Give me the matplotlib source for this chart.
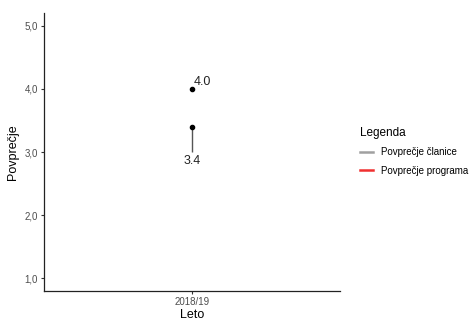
import matplotlib
matplotlib.use("Agg")
from matplotlib import pyplot as plt
from matplotlib.lines import Line2D

plt.rcParams["font.family"] = ["Liberation Sans", "DejaVu Sans"]

leta = ["2018/19"]
povp_clanice = [4.0]
povp_programa = [3.4]
spodnja_meja = [3.0]
y_ticks = [1.0, 2.0, 3.0, 4.0, 5.0]

fig = plt.figure(figsize=(4.74, 3.2), dpi=100)
ax = fig.add_axes([0.093, 0.091, 0.624, 0.868])

x = list(range(len(leta)))
ax.vlines(x, spodnja_meja, povp_programa, color="#555555", linewidth=1.0)
ax.scatter(x, povp_clanice, s=9, color="black", zorder=3)
ax.scatter(x, povp_programa, s=9, color="black", zorder=3)
for i in x:
    ax.text(i + 0.005, povp_clanice[i] + 0.02, "%.1f" % povp_clanice[i],
            fontsize=9, color="#222222", ha="left", va="bottom")
    ax.text(i, spodnja_meja[i] - 0.04, "%.1f" % povp_programa[i],
            fontsize=9, color="#222222", ha="center", va="top")

ax.set_xlim(-0.6, 0.6)
ax.set_ylim(0.8, 5.2)
ax.set_xticks(x)
ax.set_xticklabels(leta)
ax.set_yticks(y_ticks)
ax.set_yticklabels([("%.1f" % v).replace(".", ",") for v in y_ticks])
ax.tick_params(labelsize=7, labelcolor="#4D4D4D", color="#333333", length=2.5, width=0.8, pad=2)
for s in ["top", "right"]:
    ax.spines[s].set_visible(False)
for s in ["left", "bottom"]:
    ax.spines[s].set_color("#222222")
    ax.spines[s].set_linewidth(0.9)
ax.set_xlabel("Leto", fontsize=9, labelpad=1)
ax.set_ylabel("Povprečje", fontsize=9, labelpad=4)

handles = [Line2D([], [], color="#A0A0A0", linewidth=1.8),
           Line2D([], [], color="#F03030", linewidth=1.8)]
leg = fig.legend(handles, ["Povprečje članice", "Povprečje programa"],
                 title="Legenda", loc="upper left", bbox_to_anchor=(0.74, 0.63),
                 frameon=False, fontsize=7, title_fontsize=8.5,
                 handlelength=1.4, handletextpad=0.8, labelspacing=0.85)
leg._legend_box.align = "left"

fig.savefig("out.png", dpi=100)
